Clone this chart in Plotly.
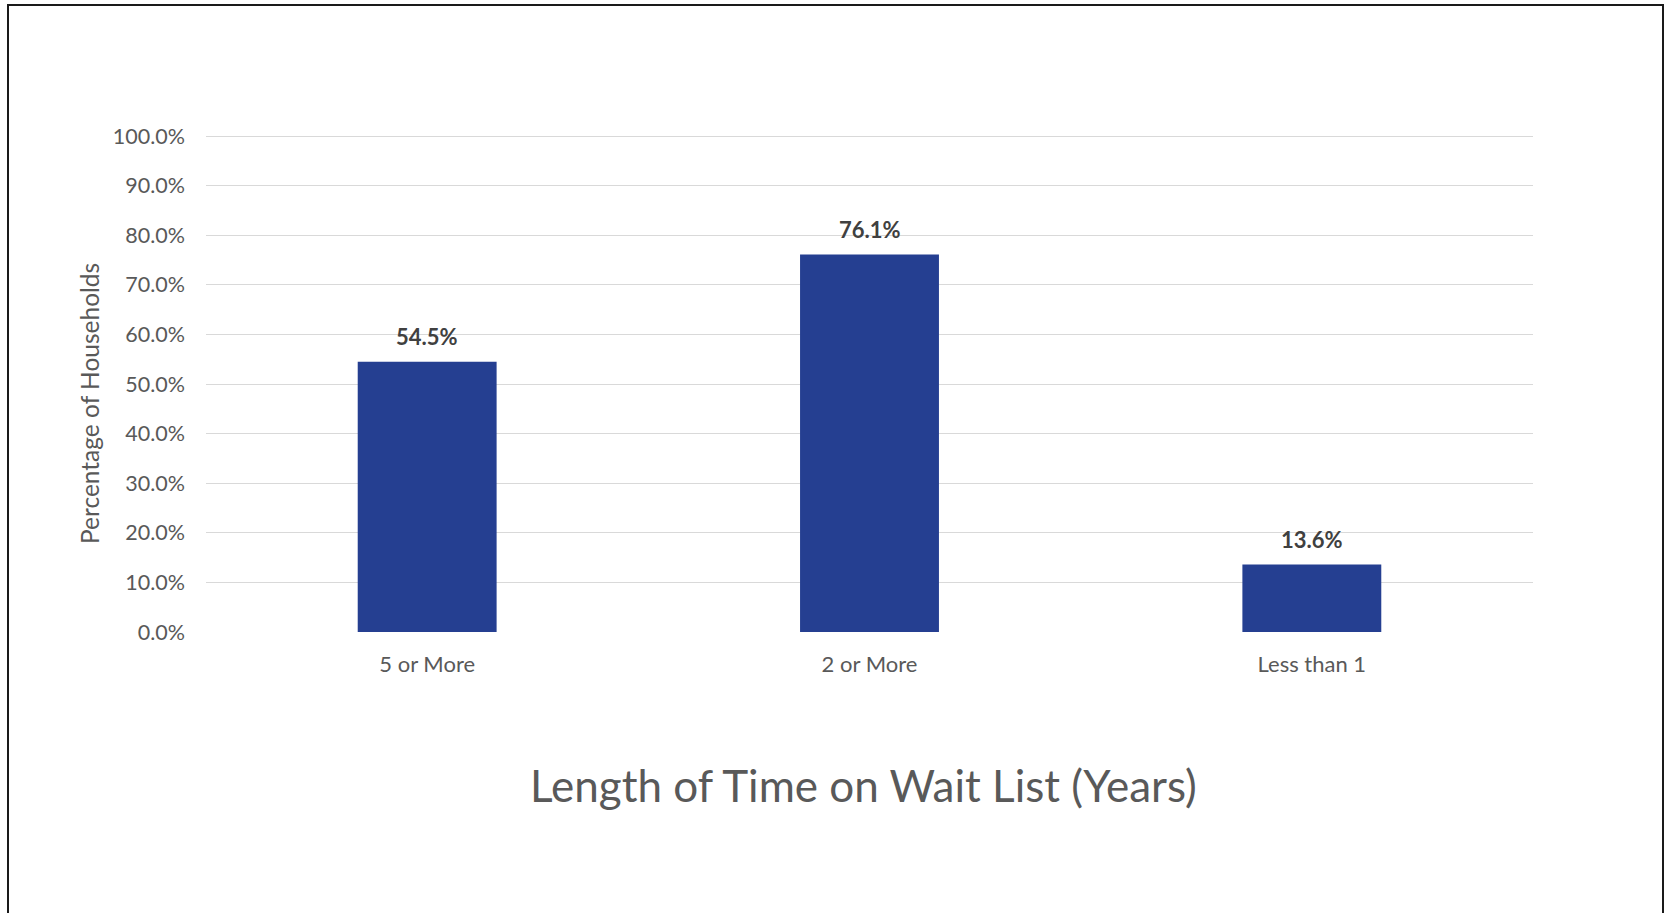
import plotly.graph_objects as go

# Wait-list duration categories and share of households (%)
categories = ["5 or More", "2 or More", "Less than 1"]
percentages = [54.5, 76.1, 13.6]
y_ticks = [0, 10, 20, 30, 40, 50, 60, 70, 80, 90, 100]
y_tick_labels = [f"{v:.1f}%" for v in y_ticks]

W, H = 1667, 913
FONT = "Lato"
GREY = "#595959"

# Plot area in pixels: value 0 sits at y=632, value 100 at y=136
Y_MAX = 100.5
PX_PER_UNIT = (632 - 136) / 100
top_px = 632 - Y_MAX * PX_PER_UNIT

fig = go.Figure(
    go.Bar(
        x=categories,
        y=percentages,
        marker=dict(color="#253F91", line=dict(width=0)),
        hoverinfo="skip",
    )
)

# Value labels above each bar
for cat, val in zip(categories, percentages):
    fig.add_annotation(
        x=cat, y=val, xref="x", yref="y",
        text=f"<b>{val:.1f}%</b>",
        showarrow=False, yanchor="bottom", yshift=10,
        font=dict(family=FONT, size=22, color="#404040"),
    )

# Axis titles
fig.add_annotation(
    x=89 / W, y=1 - 404 / H, xref="paper", yref="paper",
    text="Percentage of Households", textangle=-90,
    showarrow=False, xanchor="center", yanchor="middle",
    font=dict(family=FONT, size=24.5, color=GREY),
)
fig.add_annotation(
    x=863 / W, y=1 - 785 / H, xref="paper", yref="paper",
    text="Length of Time on Wait List (Years)",
    showarrow=False, xanchor="center", yanchor="middle",
    font=dict(family=FONT, size=44, color=GREY),
)

# Outer frame
fig.add_shape(
    type="rect", xref="paper", yref="paper",
    x0=8 / W, x1=1663 / W, y0=-0.05, y1=1 - 5 / H,
    line=dict(color="#1a1a1a", width=2), fillcolor="rgba(0,0,0,0)",
)

fig.update_layout(
    template="none",
    width=W, height=H,
    margin=dict(l=0, r=0, t=0, b=0, pad=0),
    paper_bgcolor="white", plot_bgcolor="white",
    bargap=0.686,
    showlegend=False,
    font=dict(family=FONT, color=GREY),
    xaxis=dict(
        domain=[206 / W, 1533 / W],
        automargin=False,
        showgrid=False, showline=False, zeroline=False,
        ticks="", tickfont=dict(family=FONT, size=22, color=GREY),
        ticklabelstandoff=17,
        fixedrange=True,
    ),
    yaxis=dict(
        domain=[1 - 632 / H, 1 - top_px / H],
        range=[0, Y_MAX],
        automargin=False,
        tickvals=y_ticks, ticktext=y_tick_labels,
        showgrid=True, gridcolor="#d9d9d9", gridwidth=1.3,
        zeroline=False, showline=False,
        ticks="", tickfont=dict(family=FONT, size=21.5, color=GREY),
        ticklabelstandoff=20,
        fixedrange=True,
    ),
)

fig.write_html("out.html")
